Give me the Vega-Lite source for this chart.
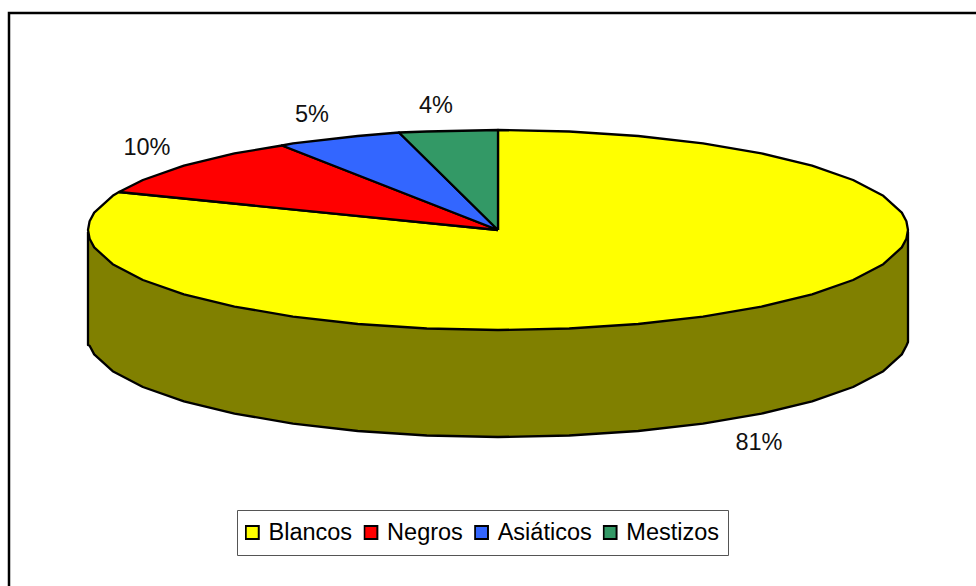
{
"$schema":"https://vega.github.io/schema/vega-lite/v6.json",
"width":976,"height":586,"padding":0,"autosize":{"type":"none"},
"background":"white",
"view":{"stroke":null},
"config":{"font":"Liberation Sans"},
"encoding":{
 "x":{"field":"x","type":"quantitative","scale":{"domain":[0,976],"nice":false,"zero":false},"axis":null},
 "y":{"field":"y","type":"quantitative","scale":{"domain":[586,0],"nice":false,"zero":false},"axis":null}
},
"layer":[
{"data":{"values":[{"n":1,"x":9,"y":586},{"n":2,"x":9,"y":13},{"n":3,"x":976,"y":13}]},
 "mark":{"type":"line","stroke":"black","strokeWidth":2.5,"clip":true},
 "encoding":{"order":{"field":"n"}}},
{"data":{"values":[
{"n":1,"x":88,"y":232},{"n":2,"x":88,"y":345},{"n":3,"x":89.6,"y":345.7},{"n":4,"x":94.2,"y":354.4},{"n":5,"x":112.7,"y":371.2},{"n":6,"x":142.9,"y":387},{"n":7,"x":183.9,"y":401.3},{"n":8,"x":234.5,"y":413.6},{"n":9,"x":293,"y":423.6},{"n":10,"x":357.8,"y":431},{"n":11,"x":426.8,"y":435.5},{"n":12,"x":498,"y":437},{"n":13,"x":569.2,"y":435.5},{"n":14,"x":638.2,"y":431},{"n":15,"x":703,"y":423.6},{"n":16,"x":761.5,"y":413.6},{"n":17,"x":812.1,"y":401.3},{"n":18,"x":853.1,"y":387},{"n":19,"x":883.3,"y":371.2},{"n":20,"x":901.8,"y":354.4},{"n":21,"x":906.4,"y":345.7},{"n":22,"x":908,"y":342},{"n":23,"x":908,"y":232},{"n":24,"x":88,"y":232}
]},
 "mark":{"type":"line","fill":"#808000","stroke":"black","strokeWidth":2.3,"strokeJoin":"round"},
 "encoding":{"order":{"field":"n"}}},
{"data":{"values":[
{"c":"Blancos","n":1,"x":498,"y":230},{"c":"Blancos","n":2,"x":498,"y":130},{"c":"Blancos","n":3,"x":569.2,"y":131.5},{"c":"Blancos","n":4,"x":638.2,"y":136},{"c":"Blancos","n":5,"x":703,"y":143.4},{"c":"Blancos","n":6,"x":761.5,"y":153.4},{"c":"Blancos","n":7,"x":812.1,"y":165.7},{"c":"Blancos","n":8,"x":853.1,"y":180},{"c":"Blancos","n":9,"x":883.3,"y":195.8},{"c":"Blancos","n":10,"x":901.8,"y":212.6},{"c":"Blancos","n":11,"x":906.4,"y":221.3},{"c":"Blancos","n":12,"x":908,"y":230},{"c":"Blancos","n":13,"x":906.4,"y":238.7},{"c":"Blancos","n":14,"x":901.8,"y":247.4},{"c":"Blancos","n":15,"x":883.3,"y":264.2},{"c":"Blancos","n":16,"x":853.1,"y":280},{"c":"Blancos","n":17,"x":812.1,"y":294.3},{"c":"Blancos","n":18,"x":761.5,"y":306.6},{"c":"Blancos","n":19,"x":703,"y":316.6},{"c":"Blancos","n":20,"x":638.2,"y":324},{"c":"Blancos","n":21,"x":569.2,"y":328.5},{"c":"Blancos","n":22,"x":498,"y":330},{"c":"Blancos","n":23,"x":426.8,"y":328.5},{"c":"Blancos","n":24,"x":357.8,"y":324},{"c":"Blancos","n":25,"x":293,"y":316.6},{"c":"Blancos","n":26,"x":234.5,"y":306.6},{"c":"Blancos","n":27,"x":183.9,"y":294.3},{"c":"Blancos","n":28,"x":142.9,"y":280},{"c":"Blancos","n":29,"x":112.7,"y":264.2},{"c":"Blancos","n":30,"x":94.2,"y":247.4},{"c":"Blancos","n":31,"x":89.6,"y":238.7},{"c":"Blancos","n":32,"x":88,"y":230},{"c":"Blancos","n":33,"x":89.6,"y":221.3},{"c":"Blancos","n":34,"x":94.2,"y":212.6},{"c":"Blancos","n":35,"x":112.7,"y":195.8},{"c":"Blancos","n":36,"x":119,"y":192},{"c":"Blancos","n":37,"x":498,"y":230},
{"c":"Negros","n":1,"x":498,"y":230},{"c":"Negros","n":2,"x":119,"y":192},{"c":"Negros","n":3,"x":142.9,"y":180},{"c":"Negros","n":4,"x":183.9,"y":165.7},{"c":"Negros","n":5,"x":234.5,"y":153.4},{"c":"Negros","n":6,"x":282,"y":145.5},{"c":"Negros","n":7,"x":498,"y":230},
{"c":"Asiáticos","n":1,"x":498,"y":230},{"c":"Asiáticos","n":2,"x":282,"y":145.5},{"c":"Asiáticos","n":3,"x":293,"y":143.4},{"c":"Asiáticos","n":4,"x":357.8,"y":136},{"c":"Asiáticos","n":5,"x":399,"y":132.5},{"c":"Asiáticos","n":6,"x":498,"y":230},
{"c":"Mestizos","n":1,"x":498,"y":230},{"c":"Mestizos","n":2,"x":399,"y":132.5},{"c":"Mestizos","n":3,"x":426.8,"y":131.5},{"c":"Mestizos","n":4,"x":498,"y":130},{"c":"Mestizos","n":5,"x":498,"y":230}
]},
 "mark":{"type":"line","stroke":"black","strokeWidth":2.3,"strokeJoin":"round"},
 "encoding":{
  "order":{"field":"n"},
  "fill":{"field":"c","type":"nominal","sort":null,
   "scale":{"domain":["Blancos","Negros","Asiáticos","Mestizos"],"range":["#FFFF00","#FF0000","#3366FF","#339966"]},
   "legend":{"title":null,"orient":"none","legendX":237,"legendY":510,"direction":"horizontal","columns":4,"gridAlign":"none","columnPadding":10.6,"padding":8,"clipHeight":29,"strokeColor":"#555555","fillColor":"white","symbolType":"square","symbolSize":170,"symbolOffset":-4.5,"symbolStrokeColor":"black","symbolStrokeWidth":2,"labelFont":"Liberation Sans","labelFontSize":23.5,"labelColor":"black","labelOffset":4.5,"labelLimit":200}}
 }},
{"data":{"values":[{"t":"10%","x":147,"y":155},{"t":"5%","x":312,"y":122},{"t":"4%","x":436,"y":113},{"t":"81%","x":759,"y":450}]},
 "mark":{"type":"text","font":"Liberation Sans","fontSize":23.5,"color":"#111111","baseline":"alphabetic","align":"center"},
 "encoding":{"text":{"field":"t"}}}
]}
